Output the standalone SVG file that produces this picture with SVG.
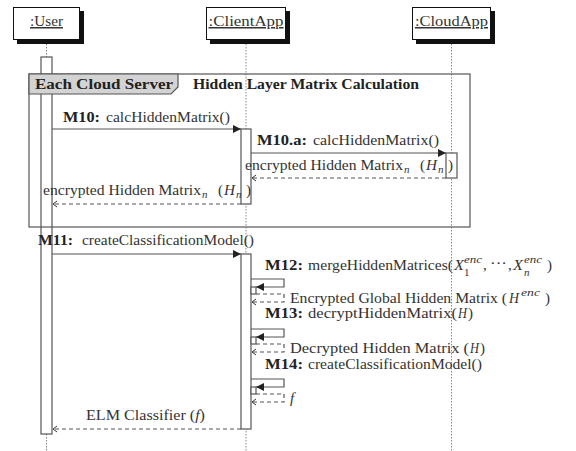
<svg xmlns="http://www.w3.org/2000/svg" width="576" height="451" viewBox="0 0 576 451">
<defs>
<marker id="fill" markerUnits="userSpaceOnUse" markerWidth="9" markerHeight="9" refX="8" refY="4" orient="auto"><path d="M0,0 L8,4 L0,8 z" fill="#222"/></marker>
<marker id="open" markerUnits="userSpaceOnUse" markerWidth="6" markerHeight="8" refX="4.5" refY="3.5" orient="auto"><path d="M0.5,0.5 L4.5,3.5 L0.5,6.5" fill="none" stroke="#333" stroke-width="1"/></marker>
<style>
text{font-family:"Liberation Serif","DejaVu Serif",serif;font-size:15px;fill:#333}
.b{font-weight:bold;fill:#222}
.i{font-style:italic}
.s{font-size:11px}
.hdr{fill:#fff;stroke:#111;stroke-width:1}
.shd{fill:#111}
.life{stroke:#888;stroke-width:1;stroke-dasharray:1.5 1.5;fill:none}
.bar{fill:#fff;stroke:#555;stroke-width:1.2}
.msg{stroke:#555;stroke-width:1.2;fill:none}
.ret{stroke:#555;stroke-width:1.2;fill:none;stroke-dasharray:4 3}
.frm{fill:none;stroke:#555;stroke-width:1.2}
.tab{fill:#d3d3d3;stroke:#555;stroke-width:1.2}
</style>
</defs>
<rect width="576" height="451" fill="#fff"/>
<g id="lifelines">
<line class="life" x1="46.5" y1="44" x2="46.5" y2="451"/>
<line class="life" x1="246" y1="44" x2="246" y2="451"/>
<line class="life" x1="451.5" y1="44" x2="451.5" y2="451"/>
</g>
<g id="user">
<rect class="shd" x="17" y="11" width="67" height="33"/>
<rect class="hdr" x="13.5" y="7.5" width="66" height="32"/>
<text x="46.5" y="26" text-anchor="middle" text-decoration="underline" textLength="33" lengthAdjust="spacingAndGlyphs">:User</text>
<rect class="bar" x="41" y="57" width="11" height="377"/>
</g>
<g id="clientapp">
<rect class="shd" x="210" y="11" width="80" height="33"/>
<rect class="hdr" x="206.5" y="7.5" width="79" height="32"/>
<text x="246" y="26" text-anchor="middle" text-decoration="underline" textLength="75" lengthAdjust="spacingAndGlyphs">:ClientApp</text>
</g>
<g id="cloudapp">
<rect class="shd" x="416" y="11" width="79" height="33"/>
<rect class="hdr" x="412.5" y="7.5" width="78" height="32"/>
<text x="451.5" y="26" text-anchor="middle" text-decoration="underline" textLength="73" lengthAdjust="spacingAndGlyphs">:CloudApp</text>
<rect class="bar" x="446" y="153" width="11" height="25"/>
</g>
<g id="frame">
<rect class="frm" x="29" y="74" width="441" height="153"/>
<path class="tab" d="M29,74 H178 V87 L171,94 H29 Z"/>
<text class="b" x="35" y="89" textLength="138" lengthAdjust="spacingAndGlyphs">Each Cloud Server</text>
<text class="b" x="193" y="89" textLength="226" lengthAdjust="spacingAndGlyphs">Hidden Layer Matrix Calculation</text>
</g>
<g id="clientapp-activations">
<rect class="bar" x="241" y="129" width="10" height="75"/>
<rect class="bar" x="241" y="254" width="10" height="175"/>
<rect class="bar" x="251" y="287" width="5" height="7"/>
<rect class="bar" x="251" y="337" width="5" height="7"/>
<rect class="bar" x="251" y="387" width="5" height="7"/>
</g>
<g id="connectors">
<line class="msg" x1="52" y1="129" x2="241" y2="129" marker-end="url(#fill)"/>
<line class="msg" x1="251" y1="153" x2="446" y2="153" marker-end="url(#fill)"/>
<line class="ret" x1="446" y1="178" x2="252" y2="178" marker-end="url(#open)"/>
<line class="ret" x1="241" y1="204" x2="53" y2="204" marker-end="url(#open)"/>
<line class="msg" x1="52" y1="254" x2="241" y2="254" marker-end="url(#fill)"/>
<path class="msg" d="M251,279 H284 V287 H256" marker-end="url(#fill)"/>
<path class="ret" d="M256,294 H284 V302 H252" marker-end="url(#open)"/>
<path class="msg" d="M251,329 H284 V337 H256" marker-end="url(#fill)"/>
<path class="ret" d="M256,344 H284 V352 H252" marker-end="url(#open)"/>
<path class="msg" d="M251,379 H284 V387 H256" marker-end="url(#fill)"/>
<path class="ret" d="M256,394 H284 V402 H252" marker-end="url(#open)"/>
<line class="ret" x1="241" y1="429" x2="53" y2="429" marker-end="url(#open)"/>
</g>
<g id="labels">
<text class="b" x="63" y="122" textLength="37" lengthAdjust="spacingAndGlyphs">M10:</text>
<text x="106" y="122" textLength="124" lengthAdjust="spacingAndGlyphs">calcHiddenMatrix()</text>
<text class="b" x="257" y="145" textLength="50" lengthAdjust="spacingAndGlyphs">M10.a:</text>
<text x="313" y="145" textLength="126" lengthAdjust="spacingAndGlyphs">calcHiddenMatrix()</text>
<text x="245" y="170" textLength="158" lengthAdjust="spacingAndGlyphs">encrypted Hidden Matrix</text>
<text class="i s" x="404" y="173">n</text>
<text x="420" y="170">(</text>
<text class="i" x="426" y="170" textLength="11" lengthAdjust="spacingAndGlyphs">H</text>
<text class="i s" x="438" y="173">n</text>
<text x="448" y="170">)</text>
<text x="43" y="195" textLength="158" lengthAdjust="spacingAndGlyphs">encrypted Hidden Matrix</text>
<text class="i s" x="202" y="198">n</text>
<text x="218" y="195">(</text>
<text class="i" x="224" y="195" textLength="11" lengthAdjust="spacingAndGlyphs">H</text>
<text class="i s" x="236" y="198">n</text>
<text x="246" y="195">)</text>
<text class="b" x="38" y="245" textLength="35" lengthAdjust="spacingAndGlyphs">M11:</text>
<text x="82" y="245" textLength="172" lengthAdjust="spacingAndGlyphs">createClassificationModel()</text>
<text class="b" x="265" y="270" textLength="38" lengthAdjust="spacingAndGlyphs">M12:</text>
<text x="308" y="270" textLength="145" lengthAdjust="spacingAndGlyphs">mergeHiddenMatrices(</text>
<text class="i" x="454" y="270" textLength="10" lengthAdjust="spacingAndGlyphs">X</text>
<text class="i s" x="464" y="263" textLength="18" lengthAdjust="spacingAndGlyphs">enc</text>
<text class="s" x="464" y="276">1</text>
<text x="483" y="270">,</text>
<text x="490" y="268" textLength="17" lengthAdjust="spacingAndGlyphs">···</text>
<text x="508" y="270">,</text>
<text class="i" x="513" y="270" textLength="10" lengthAdjust="spacingAndGlyphs">X</text>
<text class="i s" x="524" y="263" textLength="18" lengthAdjust="spacingAndGlyphs">enc</text>
<text class="i s" x="524" y="276">n</text>
<text x="547" y="270">)</text>
<text x="290" y="303" textLength="217" lengthAdjust="spacingAndGlyphs">Encrypted Global Hidden Matrix (</text>
<text class="i" x="509" y="303" textLength="10" lengthAdjust="spacingAndGlyphs">H</text>
<text class="i s" x="521" y="296" textLength="19" lengthAdjust="spacingAndGlyphs">enc</text>
<text x="545" y="303">)</text>
<text class="b" x="265" y="318" textLength="38" lengthAdjust="spacingAndGlyphs">M13:</text>
<text x="308" y="318" textLength="149" lengthAdjust="spacingAndGlyphs">decryptHiddenMatrix(</text>
<text class="i" x="458" y="318" textLength="9" lengthAdjust="spacingAndGlyphs">H</text>
<text x="468" y="318">)</text>
<text x="290" y="353" textLength="179" lengthAdjust="spacingAndGlyphs">Decrypted Hidden Matrix (</text>
<text class="i" x="470" y="353" textLength="9" lengthAdjust="spacingAndGlyphs">H</text>
<text x="480" y="353">)</text>
<text class="b" x="265" y="369" textLength="38" lengthAdjust="spacingAndGlyphs">M14:</text>
<text x="308" y="369" textLength="174" lengthAdjust="spacingAndGlyphs">createClassificationModel()</text>
<text class="i" x="290" y="403">f</text>
<text x="86" y="420" textLength="119" lengthAdjust="spacingAndGlyphs">ELM Classifier (<tspan class="i">f</tspan>)</text>
</g>
</svg>
